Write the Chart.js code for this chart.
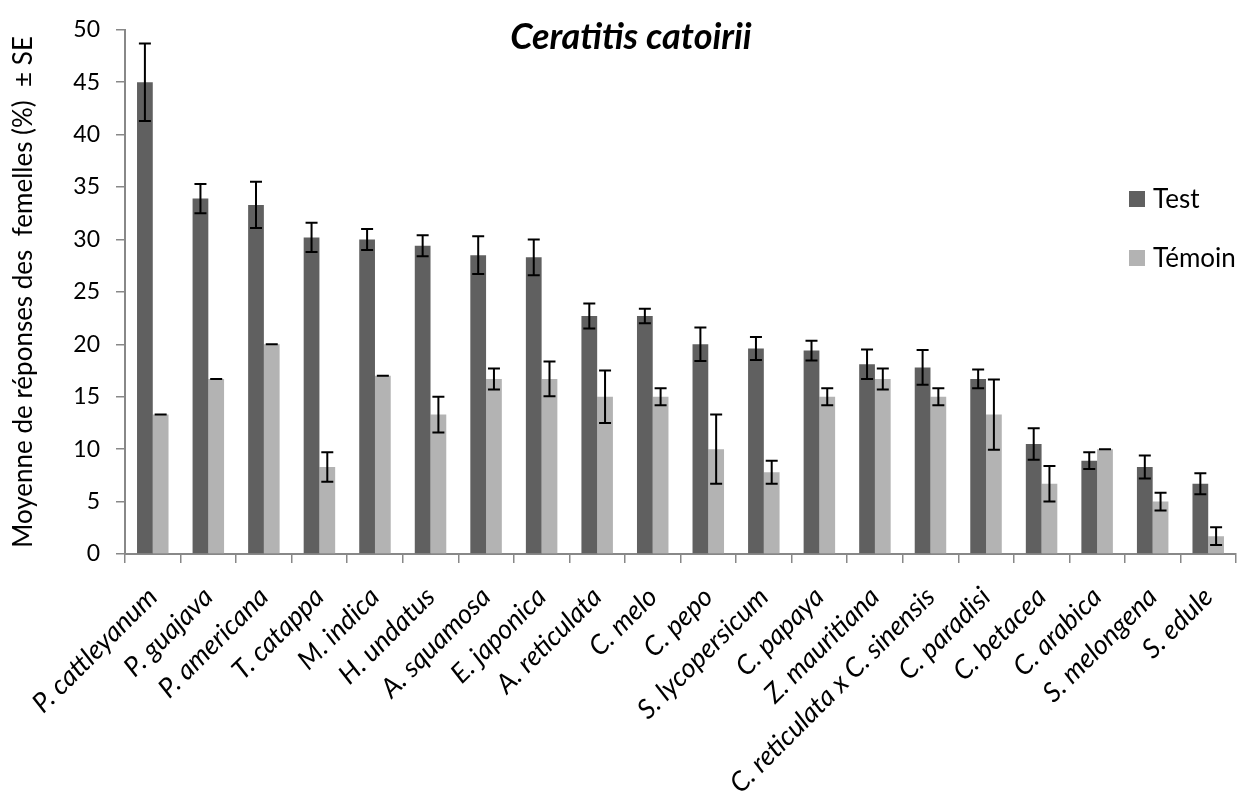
<!DOCTYPE html>
<html>
<head>
<meta charset="utf-8">
<script src="https://cdn.jsdelivr.net/npm/chart.js@4/dist/chart.umd.min.js"></script>
<style>
  html, body { margin: 0; padding: 0; background: #fff; }
  #wrap { width: 1250px; height: 800px; }
</style>
</head>
<body>
<div id="wrap"><canvas id="myChart" width="1250" height="800"></canvas></div>
<script>
// host plants (categories)
const plants = ['P. cattleyanum', 'P. guajava', 'P. americana', 'T. catappa', 'M. indica', 'H. undatus',
  'A. squamosa', 'E. japonica', 'A. reticulata', 'C. melo', 'C. pepo', 'S. lycopersicum', 'C. papaya',
  'Z. mauritiana', 'C. reticulata x C. sinensis', 'C. paradisi', 'C. betacea', 'C. arabica', 'S. melongena', 'S. edule'];

// mean responses (%) and standard errors
const testMeans = [45, 33.9, 33.3, 30.2, 30, 29.4, 28.5, 28.3, 22.7, 22.7, 20, 19.6, 19.4, 18.1, 17.8, 16.7, 10.5, 8.9, 8.3, 6.7];
const testSE = [3.7, 1.4, 2.2, 1.4, 1.0, 1.0, 1.8, 1.7, 1.2, 0.7, 1.6, 1.1, 0.95, 1.4, 1.65, 0.9, 1.5, 0.8, 1.1, 1.0];
const temoinMeans = [13.3, 16.7, 20, 8.3, 17, 13.3, 16.7, 16.7, 15, 15, 10, 7.8, 15, 16.7, 15, 13.3, 6.7, 10, 5, 1.7];
const temoinSE = [0, 0, 0, 1.4, 0, 1.7, 1.0, 1.65, 2.5, 0.8, 3.3, 1.1, 0.8, 1.0, 0.8, 3.35, 1.7, 0, 0.85, 0.85];

const yTicks = [0, 5, 10, 15, 20, 25, 30, 35, 40, 45, 50];

const FONT = 'Lato, "Open Sans", sans-serif';

// error bars with caps, drawn over the bars
const errorBars = {
  id: 'errorBars',
  afterDatasetsDraw(chart) {
    const ctx = chart.ctx;
    const y = chart.scales.y;
    ctx.save();
    ctx.strokeStyle = '#000';
    ctx.lineWidth = 2;
    chart.data.datasets.forEach(function (ds, i) {
      const meta = chart.getDatasetMeta(i);
      meta.data.forEach(function (bar, j) {
        const v = ds.data[j], e = ds.errors[j];
        const top = y.getPixelForValue(v + e);
        const bot = y.getPixelForValue(v - e);
        const x = bar.x, cap = 6;
        ctx.beginPath();
        ctx.moveTo(x, top); ctx.lineTo(x, bot);
        ctx.moveTo(x - cap, top); ctx.lineTo(x + cap, top);
        ctx.moveTo(x - cap, bot); ctx.lineTo(x + cap, bot);
        ctx.stroke();
      });
    });
    ctx.restore();
  }
};

// title and legend sit over the plot, like in the original
const overlay = {
  id: 'overlay',
  afterDraw(chart) {
    const ctx = chart.ctx;
    ctx.save();
    ctx.fillStyle = '#000';
    ctx.font = 'italic bold 36px ' + FONT;
    ctx.textAlign = 'center';
    ctx.textBaseline = 'alphabetic';
    ctx.fillText('Ceratitis catoirii', 631, 49);

    ctx.font = '26px ' + FONT;
    ctx.textAlign = 'left';
    ctx.textBaseline = 'middle';
    chart.data.datasets.forEach(function (ds, i) {
      const cy = 199 + i * 59;
      ctx.fillStyle = ds.backgroundColor;
      ctx.fillRect(1129, cy - 8, 16, 16);
      ctx.fillStyle = '#000';
      ctx.fillText(ds.label, 1153, cy + 1);
    });
    ctx.restore();
  }
};

window.onload = function () {
  var ctx = document.getElementById('myChart').getContext('2d');

  const myChart = new Chart(ctx, {
    type: 'bar',
    data: {
      labels: plants,
      datasets: [{
        label: 'Test',
        data: testMeans,
        errors: testSE,
        backgroundColor: '#606060',
        borderWidth: 0
      }, {
        label: 'Témoin',
        data: temoinMeans,
        errors: temoinSE,
        backgroundColor: '#b3b3b3',
        borderWidth: 0
      }]
    },
    options: {
      responsive: false,
      animation: false,
      layout: {
        padding: { top: 21, right: 14, left: 0, bottom: 0 }
      },
      datasets: {
        bar: { categoryPercentage: 0.567, barPercentage: 1 }
      },
      plugins: {
        legend: { display: false },
        tooltip: { enabled: false },
        title: { display: false }
      },
      scales: {
        y: {
          min: 0,
          max: 50,
          afterBuildTicks: function (scale) {
            scale.ticks = yTicks.map(function (v) { return { value: v }; });
          },
          afterFit: function (scale) { scale.width = 125; },
          ticks: {
            color: '#000',
            padding: 16,
            font: { family: FONT, size: 23 }
          },
          grid: {
            drawOnChartArea: false,
            drawTicks: true,
            tickLength: 9,
            color: '#888',
            lineWidth: 1.5
          },
          border: { color: '#888', width: 2 },
          title: {
            display: true,
            text: 'Moyenne de réponses des  femelles (%)  ± SE',
            color: '#000',
            font: { family: FONT, size: 26 },
            padding: { top: 8, bottom: 0 }
          }
        },
        x: {
          afterFit: function (scale) { scale.height = 246; },
          ticks: {
            color: '#000',
            autoSkip: false,
            minRotation: 45,
            maxRotation: 45,
            padding: 18,
            font: { family: FONT, size: 27, style: 'italic' }
          },
          grid: {
            offset: true,
            drawOnChartArea: false,
            drawTicks: true,
            tickLength: 9,
            color: '#888',
            lineWidth: 1.5
          },
          border: { color: '#888', width: 2 }
        }
      }
    },
    plugins: [errorBars, overlay]
  });
};
</script>
</body>
</html>
